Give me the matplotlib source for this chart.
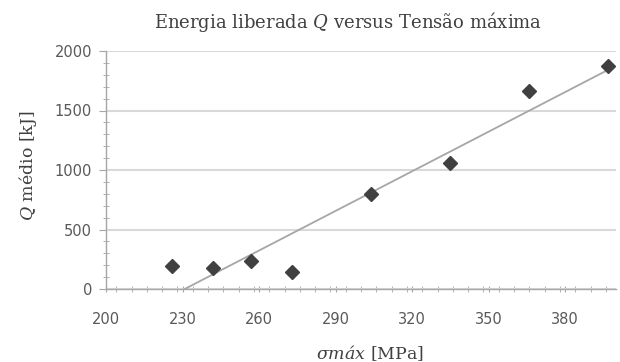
import matplotlib
matplotlib.use("Agg")
import matplotlib.pyplot as plt
import numpy as np
from matplotlib.ticker import MultipleLocator

plt.rcParams['mathtext.fontset'] = 'custom'
plt.rcParams['mathtext.rm'] = 'DejaVu Serif'
plt.rcParams['mathtext.it'] = 'DejaVu Serif:italic'

sigma_max = [226, 242, 257, 273, 304, 335, 366, 397]
q_medio = [195, 175, 235, 140, 800, 1055, 1660, 1875]

x_ticks = [200, 230, 260, 290, 320, 350, 380]
y_ticks = [0, 500, 1000, 1500, 2000]

fig = plt.figure(figsize=(6.2, 3.62), dpi=100)
ax = fig.add_axes([106/620, 1-289/362, (616-106)/620, (289-51)/362])

x = np.array(sigma_max, dtype=float)
y = np.array(q_medio, dtype=float)
slope, intercept = np.polyfit(x, y, 1)
xl = np.array([x.min(), x.max()])
ax.plot(xl, slope*xl + intercept, color='#a6a6a6', lw=1.3, zorder=2)

ax.plot(sigma_max, q_medio, linestyle='none', marker='D', markersize=7.5,
        color='#404040', zorder=3)

ax.set_xlim(200, 400)
ax.set_ylim(0, 2000)
ax.set_xticks(x_ticks)
ax.set_yticks(y_ticks)
ax.xaxis.set_minor_locator(MultipleLocator(6))
ax.yaxis.set_minor_locator(MultipleLocator(100))
ax.grid(axis='y', which='major', color='#d9d9d9', lw=1.5)
ax.set_axisbelow(True)
for s in ['top', 'right']:
    ax.spines[s].set_visible(False)
for s in ['left', 'bottom']:
    ax.spines[s].set_color('#a6a6a6')
    ax.spines[s].set_linewidth(1.0)
ax.tick_params(which='major', direction='out', length=5, color='#a6a6a6',
               labelsize=10.5, labelcolor='#595959', pad=5)
ax.tick_params(which='minor', direction='inout', length=4, color='#a6a6a6')
ax.tick_params(axis='x', which='major', direction='inout', length=5, pad=14)

fig.text(348/620, 1-22/362, 'Energia liberada $Q$ versus Tensão máxima',
         ha='center', va='center', fontsize=13, family='DejaVu Serif',
         color='#404040')
fig.text(28/620, 1-166/362, '$Q$ médio [kJ]', rotation=90,
         ha='center', va='center', fontsize=12.5, family='DejaVu Serif',
         color='#404040')
fig.text(370/620, 1-353/362, '$σmáx$ [MPa]',
         ha='center', va='center', fontsize=12.5, family='DejaVu Serif',
         color='#404040')

fig.savefig('out.png', dpi=100)
